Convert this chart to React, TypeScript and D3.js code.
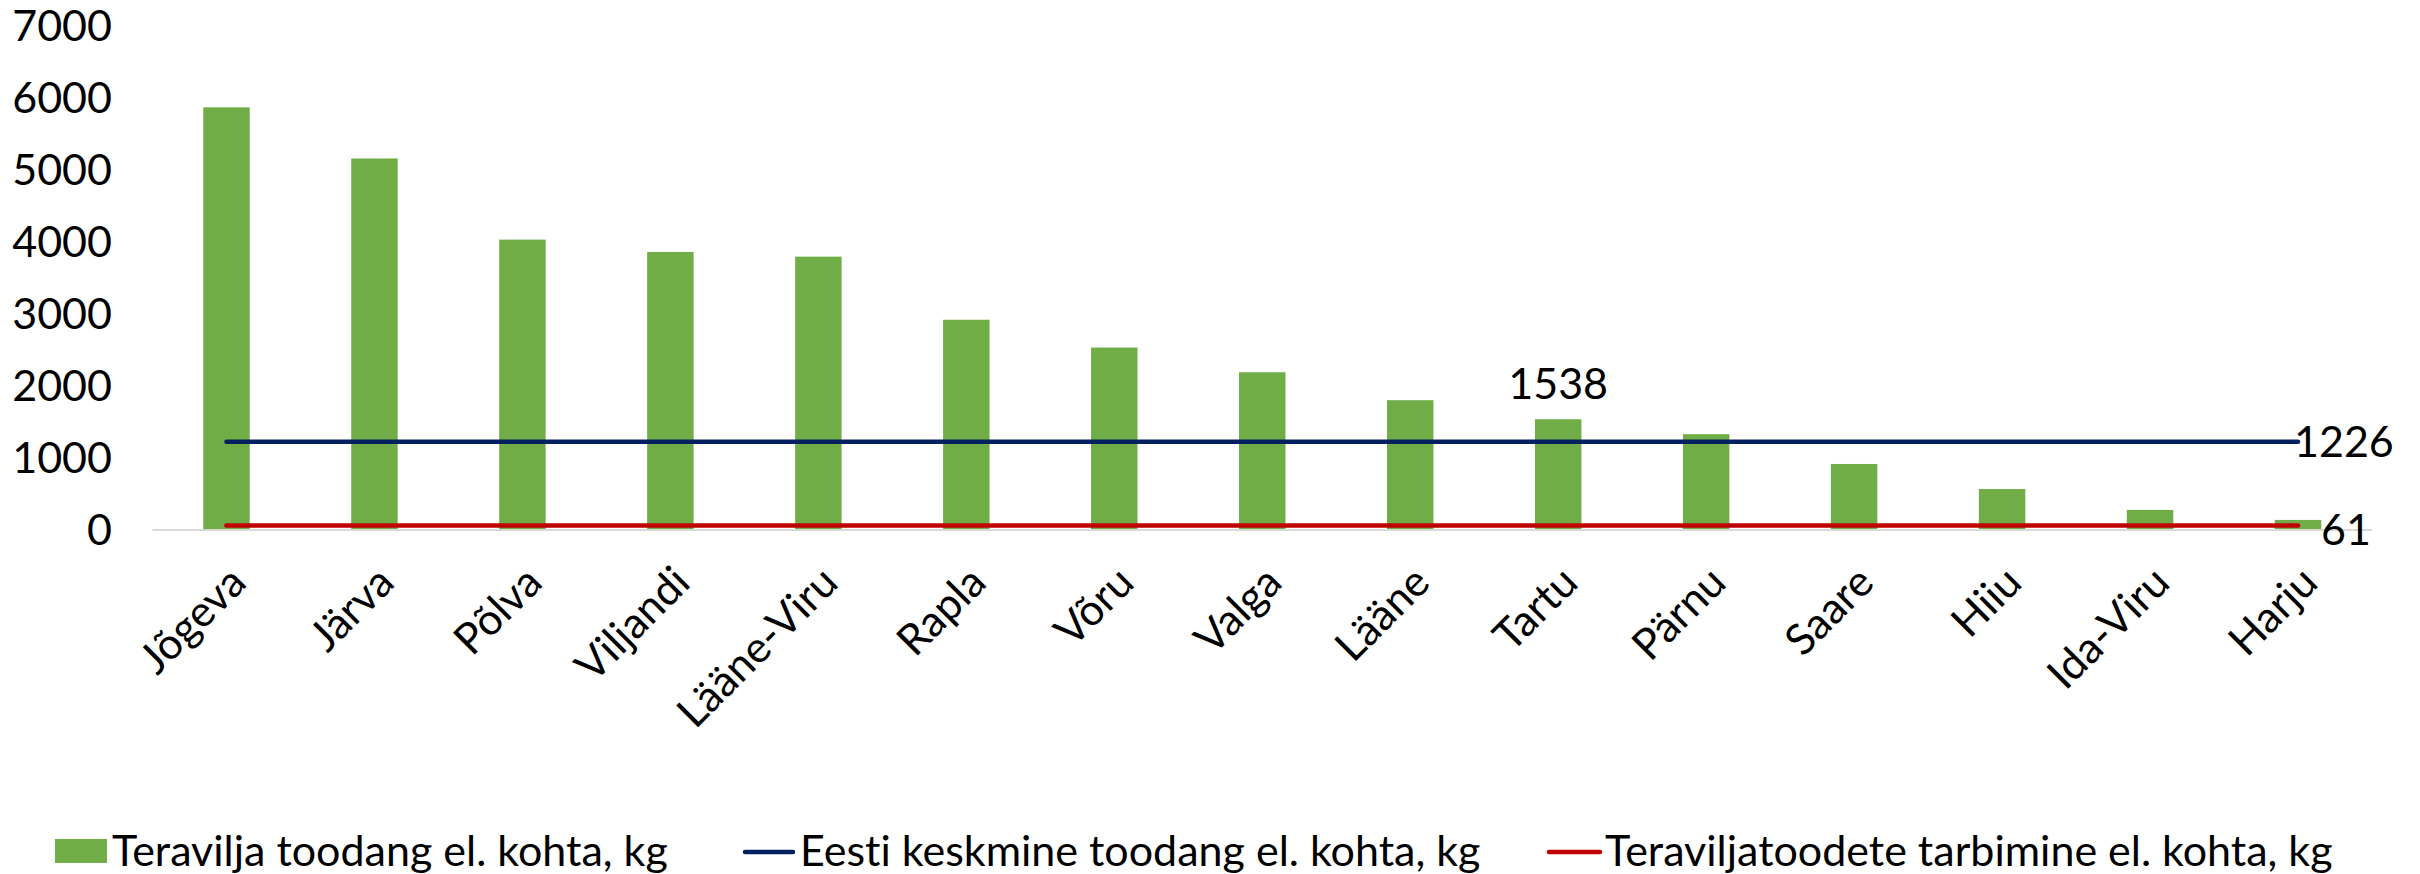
import * as d3 from "d3";

const width = 2420;
const height = 874;

const counties = [
  "Jõgeva",
  "Järva",
  "Põlva",
  "Viljandi",
  "Lääne-Viru",
  "Rapla",
  "Võru",
  "Valga",
  "Lääne",
  "Tartu",
  "Pärnu",
  "Saare",
  "Hiiu",
  "Ida-Viru",
  "Harju",
];
const production = [
  5870, 5160, 4033, 3862, 3797, 2920, 2534, 2191, 1803, 1538, 1331, 917, 569,
  279, 140,
];
const estoniaAverage = 1226;
const consumption = 61;
const yTicks = [0, 1000, 2000, 3000, 4000, 5000, 6000, 7000];
const legendLabels = [
  "Teravilja toodang el. kohta, kg",
  "Eesti keskmine toodang el. kohta, kg",
  "Teraviljatoodete tarbimine el. kohta, kg",
];

const green = "#70AD47";
const navy = "#002060";
const red = "#C00000";
const font = "Lato, 'DejaVu Sans', sans-serif";
const fs = 43;

const x = d3
  .scaleBand<string>()
  .domain(counties)
  .range([152.5, 2372])
  .paddingInner(0.686)
  .paddingOuter(0.343);

const y = d3.scaleLinear().domain([0, 7000]).range([530, 26]);

const center = (c: string) => (x(c) ?? 0) + x.bandwidth() / 2;
const first = center(counties[0]);
const last = center(counties[counties.length - 1]);

const lineGen = d3
  .line<number>()
  .x((_, i) => (i === 0 ? first : last))
  .y((d) => y(d));

export default function App() {
  return (
    <svg
      width={width}
      height={height}
      style={{
        position: "absolute",
        left: 0,
        top: 0,
        background: "#fff",
        fontVariantLigatures: "none",
      }}
      fontFamily={font}
    >
      {/* y axis labels */}
      {yTicks.map((t) => (
        <text
          key={t}
          x={112}
          y={y(t)}
          dy="0.36em"
          textAnchor="end"
          fontSize={fs}
          fill="#000"
        >
          {t}
        </text>
      ))}

      {/* bars */}
      {counties.map((c, i) => (
        <rect
          key={c}
          x={x(c)}
          y={y(production[i])}
          width={x.bandwidth()}
          height={y(0) - y(production[i])}
          fill={green}
        />
      ))}

      {/* category axis */}
      <line x1={152.5} x2={2372} y1={y(0)} y2={y(0)} stroke="#d9d9d9" strokeWidth={2} />

      {/* reference lines */}
      <path
        d={lineGen([estoniaAverage, estoniaAverage]) ?? ""}
        stroke={navy}
        strokeWidth={4.5}
        strokeLinecap="round"
        fill="none"
      />
      <path
        d={lineGen([consumption, consumption]) ?? ""}
        stroke={red}
        strokeWidth={4.5}
        strokeLinecap="round"
        fill="none"
      />

      {/* data labels */}
      <text
        x={center("Tartu")}
        y={y(1538) - 20}
        textAnchor="middle"
        fontSize={fs}
      >
        1538
      </text>
      <text x={last - 4} y={y(estoniaAverage)} dy="0.36em" fontSize={fs}>
        {estoniaAverage}
      </text>
      <text x={last + 23} y={y(consumption) + 4} dy="0.36em" fontSize={fs}>
        {consumption}
      </text>

      {/* x labels */}
      {counties.map((c) => {
        const px = center(c) + 11;
        const py = 574;
        return (
          <text
            key={c}
            transform={`translate(${px},${py}) rotate(-45)`}
            textAnchor="end"
            dy="0.36em"
            fontSize={fs}
          >
            {c}
          </text>
        );
      })}

      {/* legend */}
      <rect x={55} y={839} width={52} height={24} fill={green} />
      <text x={112} y={851} dy="0.36em" fontSize={fs}>
        {legendLabels[0]}
      </text>
      <line x1={745} x2={793} y1={852} y2={852} stroke={navy} strokeWidth={4.5} strokeLinecap="round" />
      <text x={800} y={851} dy="0.36em" fontSize={fs}>
        {legendLabels[1]}
      </text>
      <line x1={1549} x2={1600} y1={852} y2={852} stroke={red} strokeWidth={4.5} strokeLinecap="round" />
      <text x={1605} y={851} dy="0.36em" fontSize={fs}>
        {legendLabels[2]}
      </text>
    </svg>
  );
}
